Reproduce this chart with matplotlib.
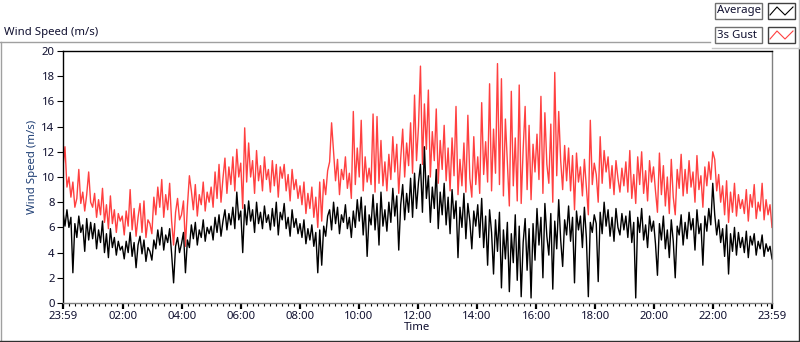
import numpy as np
import matplotlib
matplotlib.use('Agg')
from matplotlib import pyplot as plt
from matplotlib.patches import Rectangle
from matplotlib.lines import Line2D

# 4-minute samples, one row per hour (15 values)
average = [
    7.2, 6.1, 7.4, 6.0, 6.8, 2.4, 6.3, 5.2, 6.9, 5.6, 6.2, 4.1, 6.7, 5.0, 6.4,
    5.1, 6.3, 4.3, 5.8, 4.8, 6.5, 4.0, 5.5, 3.6, 5.9, 4.4, 5.2, 3.8, 4.9, 4.2,
    4.5, 3.5, 4.9, 4.0, 5.6, 3.7, 4.8, 2.8, 4.6, 5.3, 3.9, 5.0, 3.3, 4.4, 4.1,
    3.4, 5.0, 4.3, 5.8, 4.6, 6.0, 4.2, 5.4, 4.8, 5.9, 3.9, 1.6, 4.5, 5.2, 4.0,
    4.7, 5.6, 2.4, 5.0, 4.4, 6.2, 5.1, 6.4, 4.6, 5.8, 5.2, 6.6, 4.9, 6.0, 5.5,
    6.1, 5.0, 6.8, 5.6, 7.0, 5.3, 6.5, 7.4, 5.8, 7.1, 6.2, 7.6, 5.9, 8.8, 6.6,
    7.3, 4.0, 7.8, 6.2, 8.1, 6.5, 7.4, 5.6, 8.0, 6.3, 7.2, 5.9, 7.7, 6.4, 7.0,
    5.8, 7.5, 6.1, 8.0, 5.4, 7.2, 6.6, 7.9, 5.9, 6.8, 5.3, 7.4, 6.0, 6.7, 5.5,
    6.3, 5.2, 6.6, 4.7, 5.9, 5.0, 6.2, 4.5, 5.6, 2.4, 5.8, 3.0, 6.1, 5.3, 6.9,
    7.4, 5.8, 8.0, 6.3, 7.6, 5.5, 7.0, 6.4, 7.8, 5.9, 6.8, 5.2, 7.3, 6.0, 8.2,
    6.5, 8.4, 5.4, 7.7, 3.7, 7.0, 6.2, 8.6, 5.8, 7.9, 4.6, 8.8, 6.1, 7.4, 5.7,
    8.0, 6.4, 9.1, 6.9, 8.5, 4.2, 7.8, 9.4, 6.6, 8.7, 7.2, 9.9, 6.8, 10.3, 7.5,
    9.6, 11.0, 7.2, 12.4, 8.3, 10.1, 6.4, 9.2, 7.5, 10.6, 5.9, 8.8, 7.0, 9.5, 6.2,
    8.4, 5.5, 9.0, 6.7, 8.1, 3.6, 7.6, 6.0, 8.7, 5.1, 7.9, 6.5, 4.3, 7.3, 6.1,
    7.8, 5.2, 8.3, 4.4, 6.9, 3.0, 7.4, 5.6, 2.3, 6.6, 4.1, 7.2, 1.2, 5.8, 3.5,
    6.4, 0.9, 5.5, 3.2, 7.0, 1.8, 6.1, 0.5, 4.8, 6.7, 2.6, 5.9, 0.4, 6.3, 3.4,
    7.5, 4.6, 6.8, 2.0, 7.9, 5.3, 3.8, 7.1, 1.1, 6.5, 4.3, 8.2, 5.0, 2.9, 6.6,
    5.4, 7.7, 4.9, 6.8, 1.6, 7.3, 5.8, 6.9, 4.4, 7.6, 5.2, 0.5, 6.4, 5.6, 7.0,
    6.3, 1.7, 7.2, 5.5, 8.0, 6.1, 7.4, 5.3, 6.8, 4.9, 7.5, 6.0, 5.4, 7.1, 5.8,
    6.9, 5.2, 7.3, 4.8, 6.4, 0.4, 6.8, 5.6, 7.5, 5.0, 6.2, 4.4, 6.9, 5.7, 6.5,
    4.7, 2.2, 6.3, 5.0, 6.9, 4.3, 5.8, 3.6, 6.6, 4.9, 2.0, 6.1, 5.4, 7.0, 4.6,
    6.4, 5.1, 7.2, 5.8, 6.7, 4.2, 7.4, 5.5, 6.3, 3.0, 6.9, 5.7, 7.5, 6.2, 9.5,
    7.0, 5.4, 6.6, 4.8, 5.9, 3.7, 6.2, 2.3, 5.5, 4.1, 6.0, 3.8, 5.6, 4.4, 5.2,
    4.0, 5.7, 3.6, 5.3, 4.6, 5.5, 3.8, 4.9, 4.3, 5.4, 3.7, 4.7, 4.1, 4.5, 3.5,
]

gust = [
    10.8, 12.4, 9.2, 10.0, 8.4, 9.6, 7.6, 8.3, 10.6, 7.9, 8.8, 7.3, 8.6, 10.4, 8.0,
    7.6, 8.7, 6.8, 8.2, 7.0, 9.1, 6.4, 7.8, 5.9, 8.5, 6.3, 7.4, 5.6, 7.1, 6.5,
    6.9, 5.4, 7.3, 6.1, 9.0, 5.8, 7.5, 5.3, 6.8, 7.9, 5.6, 8.1, 5.2, 6.6, 6.3,
    5.5, 8.4, 7.0, 9.2, 7.6, 9.8, 6.8, 8.6, 7.4, 9.5, 6.5, 4.6, 7.2, 8.3, 6.6,
    7.0, 8.1, 4.5, 7.7, 10.1, 8.9, 7.4, 9.4, 6.9, 8.6, 7.8, 9.6, 7.3, 8.8, 8.0,
    9.2, 7.6, 10.4, 8.3, 11.0, 8.0, 9.9, 11.5, 8.7, 10.8, 9.4, 11.6, 8.9, 12.2, 10.0,
    11.1, 7.5, 13.9, 9.6, 12.7, 10.0, 11.3, 8.7, 12.1, 9.7, 10.9, 8.9, 11.6, 9.8, 10.6,
    8.8, 11.3, 9.3, 11.0, 8.4, 10.8, 9.9, 11.0, 8.9, 10.2, 8.1, 10.6, 9.0, 9.8, 8.3,
    9.3, 7.8, 9.6, 7.1, 8.7, 7.5, 9.2, 6.8, 8.4, 6.0, 9.6, 6.5, 9.8, 8.6, 10.5,
    11.2, 14.3, 12.0, 9.7, 11.4, 8.6, 10.6, 9.8, 11.6, 9.1, 10.3, 8.3, 15.2, 9.4, 12.3,
    10.0, 14.5, 8.9, 11.6, 9.6, 10.7, 9.4, 15.0, 8.8, 14.8, 9.5, 12.9, 9.3, 11.2, 8.9,
    11.8, 9.8, 13.2, 10.4, 12.6, 8.7, 11.5, 13.8, 10.0, 12.7, 10.9, 14.3, 10.3, 16.5, 11.3,
    14.0, 18.8, 11.0, 15.8, 12.2, 16.9, 10.0, 13.6, 11.3, 15.4, 9.5, 12.9, 10.6, 14.1, 9.7,
    12.3, 8.9, 13.1, 10.1, 15.6, 8.6, 11.4, 9.3, 12.7, 8.8, 14.9, 9.9, 8.4, 13.2, 9.4,
    11.6, 8.7, 15.9, 10.2, 12.8, 9.6, 17.4, 8.9, 13.8, 10.3, 19.0, 9.4, 17.8, 8.5, 14.6,
    11.2, 7.7, 16.8, 9.3, 13.1, 8.1, 17.3, 7.9, 12.2, 15.6, 9.0, 14.1, 8.2, 12.6, 10.4,
    13.4, 9.8, 16.4, 8.7, 15.1, 11.0, 9.5, 14.2, 8.0, 18.3, 10.1, 15.2, 11.3, 9.0, 12.5,
    9.7, 12.3, 8.9, 11.7, 7.4, 11.9, 9.6, 10.8, 8.5, 11.4, 9.2, 7.0, 14.5, 9.4, 11.1,
    10.2, 8.0, 13.2, 9.5, 12.1, 10.4, 11.6, 9.1, 10.9, 8.6, 11.3, 9.9, 8.8, 10.7, 9.3,
    11.2, 8.8, 12.1, 8.3, 10.2, 7.9, 11.6, 9.4, 12.0, 8.7, 10.5, 8.1, 11.3, 9.6, 10.8,
    8.9, 7.2, 11.9, 8.6, 10.9, 7.7, 10.0, 7.1, 11.4, 8.4, 7.0, 10.6, 9.1, 11.8, 8.5,
    10.6, 8.7, 11.3, 9.2, 10.4, 8.0, 11.7, 9.0, 10.1, 7.6, 10.8, 9.3, 11.2, 9.8, 12.0,
    11.4, 8.9, 10.2, 8.0, 9.3, 7.0, 9.7, 6.4, 8.8, 7.2, 9.5, 6.9, 8.6, 7.5, 8.2,
    7.1, 9.0, 6.5, 8.6, 7.6, 9.4, 6.7, 8.0, 7.3, 9.5, 6.6, 8.2, 7.0, 7.8, 6.0,
]

tick_minutes = [0, 121, 241, 361, 481, 601, 721, 841, 961, 1081, 1201, 1321, 1440]
tick_labels = ['23:59', '02:00', '04:00', '06:00', '08:00', '10:00', '12:00',
               '14:00', '16:00', '18:00', '20:00', '22:00', '23:59']
y_ticks = list(range(0, 21, 2))

plt.rcParams['font.family'] = ['Noto Sans', 'DejaVu Sans']
W, H = 800, 342
fs = 8.2

fig = plt.figure(figsize=(W / 100, H / 100), dpi=100)

def fx(px):
    return px / W

def fy(py):
    return 1 - py / H

ax = fig.add_axes([fx(63), fy(303), fx(709), 252 / H])

t = np.linspace(0, 1440, len(average))
ax.plot(t, gust, color='#ff4040', lw=1.0)
ax.plot(t, average, color='black', lw=1.0)

ax.set_xlim(0, 1440)
ax.set_ylim(0, 20)
ax.set_xticks(tick_minutes)
ax.set_xticklabels(tick_labels, fontsize=fs, color='#101030')
ax.set_xticks(np.arange(1, 1440, 12), minor=True)
ax.set_yticks(y_ticks)
ax.set_yticklabels([str(v) for v in y_ticks], fontsize=fs, color='#101030')
ax.tick_params(axis='x', which='major', length=4, width=1.6, pad=2)
ax.tick_params(axis='x', which='minor', length=2.5, width=0.8)
ax.tick_params(axis='y', length=4, width=0.8, pad=2)
ax.spines['left'].set_color('black')
ax.spines['top'].set_color('black')
ax.spines['right'].set_color('#808080')
ax.spines['bottom'].set_color('#808080')
for s in ax.spines.values():
    s.set_linewidth(1)

ax.set_xlabel('Time', fontsize=fs, labelpad=0, color='#101030')
fig.text(fx(32), fy(167), 'Wind Speed (m/s)', rotation=90, fontsize=fs,
         color='#1f3f75', ha='center', va='center')
fig.text(fx(4), fy(32), 'Wind Speed (m/s)', fontsize=fs, color='#101030',
         ha='left', va='center')

# outer panel frame
frame = [
    ([fx(0.5), fx(0.5)], [fy(42), fy(341)], '#a0a0a0'),
    ([fx(0), fx(710)], [fy(42), fy(42)], '#a0a0a0'),
    ([fx(0), fx(800)], [fy(341), fy(341)], '#303030'),
    ([fx(799), fx(799)], [fy(48), fy(341)], '#303030'),
    ([fx(799), fx(799)], [fy(0), fy(48)], '#c8c8c8'),
    ([fx(712), fx(799)], [fy(48), fy(48)], '#c8c8c8'),
]
for xs, ys, c in frame:
    fig.add_artist(Line2D(xs, ys, color=c, lw=1))

# legend
for name, col, top in [('Average', 'black', 3), ('3s Gust', '#ff4040', 27)]:
    fig.add_artist(Rectangle((fx(715), fy(top + 16)), fx(47), 16 / H,
                             facecolor='white', edgecolor='#707070', lw=1))
    fig.text(fx(717), fy(top + 8), name, fontsize=fs, color='#101030',
             ha='left', va='center')
    fig.add_artist(Rectangle((fx(768), fy(top + 16)), fx(27), 16 / H,
                             facecolor='white', edgecolor='#404040', lw=1))
    fig.add_artist(Line2D([fx(770), fx(777), fx(785), fx(793)],
                          [fy(top + 12), fy(top + 4), fy(top + 12), fy(top + 4)],
                          color=col, lw=0.8))

fig.savefig('out.png', dpi=100)
